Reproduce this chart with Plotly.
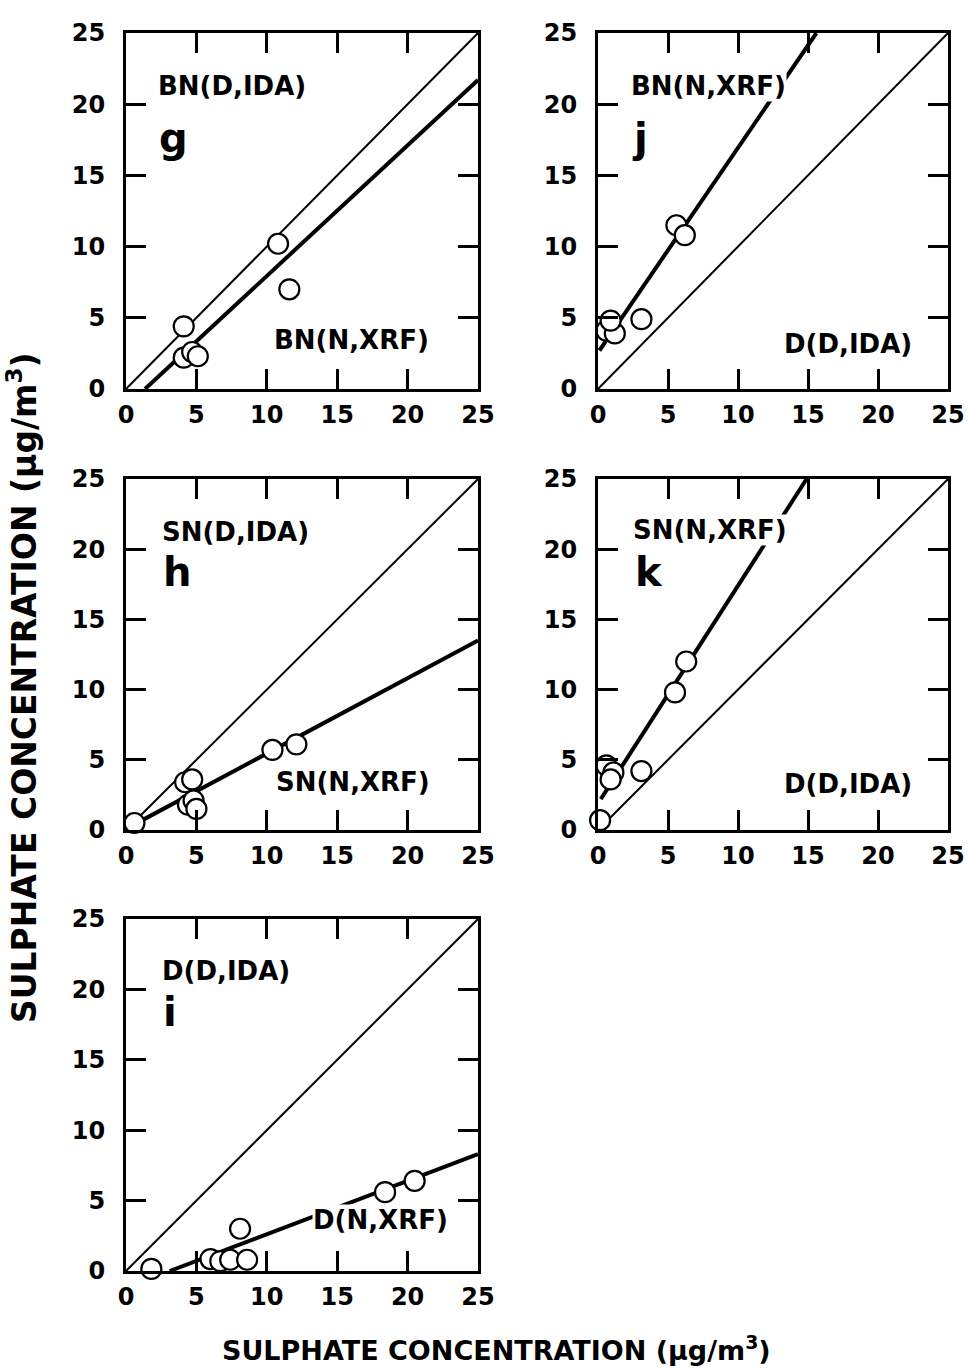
import plotly.graph_objects as go

# Panel data: measured points (x, y) and fitted-line end points for each comparison
panels = ["g", "j", "h", "k", "i"]

g_x = [10.8, 11.6, 4.1, 4.1, 4.7, 5.1]
g_y = [10.2, 7.0, 4.4, 2.2, 2.6, 2.3]
g_fit_x = [1.35, 25.0]
g_fit_y = [0.0, 21.7]

j_x = [5.6, 6.2, 3.1, 0.6, 1.2, 0.9]
j_y = [11.5, 10.8, 4.9, 4.1, 3.9, 4.8]
j_fit_x = [0.1, 15.6]
j_fit_y = [2.7, 25.0]

h_x = [0.6, 4.2, 4.7, 4.4, 4.8, 5.0, 10.4, 12.1]
h_y = [0.5, 3.4, 3.6, 1.8, 2.1, 1.5, 5.7, 6.1]
h_fit_x = [0.6, 25.0]
h_fit_y = [0.4, 13.5]

k_x = [6.3, 5.5, 3.1, 0.6, 1.1, 0.9, 0.15]
k_y = [12.0, 9.8, 4.2, 4.6, 4.1, 3.6, 0.7]
k_fit_x = [0.2, 14.9]
k_fit_y = [2.2, 25.0]

i_x = [1.8, 6.0, 6.7, 7.4, 8.6, 8.1, 18.4, 20.5]
i_y = [0.15, 0.85, 0.7, 0.8, 0.8, 3.0, 5.6, 6.4]
i_fit_x = [3.1, 25.0]
i_fit_y = [0.0, 8.3]

one_to_one = [0, 25]
tick_vals = [0, 5, 10, 15, 20, 25]

top_labels = {"g": "BN(D,IDA)", "j": "BN(N,XRF)", "h": "SN(D,IDA)",
              "k": "SN(N,XRF)", "i": "D(D,IDA)"}
bottom_labels = {"g": "BN(N,XRF)", "j": "D(D,IDA)", "h": "SN(N,XRF)",
                 "k": "D(D,IDA)", "i": "D(N,XRF)"}
axis_title = "SULPHATE CONCENTRATION (μg/m<sup>3</sup>)"

data = {
    "g": (g_x, g_y, g_fit_x, g_fit_y),
    "j": (j_x, j_y, j_fit_x, j_fit_y),
    "h": (h_x, h_y, h_fit_x, h_fit_y),
    "k": (k_x, k_y, k_fit_x, k_fit_y),
    "i": (i_x, i_y, i_fit_x, i_fit_y),
}

W, H = 971, 1371
col_px = {0: (126, 478), 1: (598, 948)}
row_px = {0: (33, 389), 1: (479, 830), 2: (919, 1271)}
layout_pos = {"g": (0, 0), "j": (0, 1), "h": (1, 0), "k": (1, 1), "i": (2, 0)}

FONT = "DejaVu Sans"
fig = go.Figure()
annotations = []
layout = dict(
    width=W, height=H, margin=dict(l=0, r=0, t=0, b=0, autoexpand=False),
    paper_bgcolor="white", plot_bgcolor="white", showlegend=False,
    font=dict(family=FONT, color="black"),
)

top_pos = {"g": (2.2, 21.3), "j": (2.3, 21.3), "h": (2.5, 21.25),
           "k": (2.4, 21.4), "i": (2.5, 21.3)}
letter_pos = {"g": (2.2, 17.6), "j": (2.3, 17.6), "h": (2.5, 18.4),
              "k": (2.5, 18.4), "i": (2.5, 18.4)}
bottom_pos = {"g": (10.45, 3.44), "j": (13.2, 3.15), "h": (10.6, 3.44),
              "k": (13.2, 3.3), "i": (13.2, 3.6)}

for n, p in enumerate(panels, start=1):
    r, c = layout_pos[p]
    x0, x1 = col_px[c]
    y0, y1 = row_px[r]
    xa = "xaxis" if n == 1 else f"xaxis{n}"
    ya = "yaxis" if n == 1 else f"yaxis{n}"
    xr = "x" if n == 1 else f"x{n}"
    yr = "y" if n == 1 else f"y{n}"
    common = dict(
        range=[0, 25], tickvals=tick_vals, ticks="inside", ticklen=20,
        tickwidth=2.5, tickcolor="black", showline=True, linewidth=3,
        linecolor="black", mirror="ticks", showgrid=False, zeroline=False,
        automargin=False,
        tickfont=dict(family=FONT, size=24, color="black", weight="bold"),
        fixedrange=True,
    )
    layout[xa] = dict(common, domain=[x0 / W, x1 / W], anchor=yr,
                      ticklabelstandoff=2)
    layout[ya] = dict(common, domain=[1 - y1 / H, 1 - y0 / H], anchor=xr,
                      ticklabelstandoff=13)

    px, py, fx, fy = data[p]
    fig.add_trace(go.Scatter(x=one_to_one, y=one_to_one, mode="lines",
                             line=dict(color="black", width=2),
                             xaxis=xr, yaxis=yr, hoverinfo="skip"))
    fig.add_trace(go.Scatter(x=fx, y=fy, mode="lines",
                             line=dict(color="black", width=4),
                             xaxis=xr, yaxis=yr, hoverinfo="skip"))
    fig.add_trace(go.Scatter(x=px, y=py, mode="markers", cliponaxis=False,
                             marker=dict(size=20, color="white",
                                         line=dict(color="black", width=2.2)),
                             xaxis=xr, yaxis=yr))

    tx, ty = top_pos[p]
    annotations.append(dict(text=top_labels[p], x=tx, y=ty, xref=xr, yref=yr,
                            xanchor="left", yanchor="middle", showarrow=False,
                            bgcolor="white", borderpad=0,
                            font=dict(family=FONT, size=26, color="black",
                                      weight="bold")))
    lx, ly = letter_pos[p]
    annotations.append(dict(text=p, x=lx, y=ly, xref=xr, yref=yr,
                            xanchor="left", yanchor="middle", showarrow=False,
                            font=dict(family=FONT, size=40, color="black",
                                      weight="bold")))
    bx, by = bottom_pos[p]
    annotations.append(dict(text=bottom_labels[p], x=bx, y=by, xref=xr, yref=yr,
                            xanchor="left", yanchor="middle", showarrow=False,
                            bgcolor="white", borderpad=0,
                            font=dict(family=FONT, size=26, color="black",
                                      weight="bold")))

# Shared axis titles
annotations.append(dict(text=axis_title, x=496 / W, y=1 - 1348 / H,
                        xref="paper", yref="paper", xanchor="center",
                        yanchor="middle", showarrow=False,
                        font=dict(family=FONT, size=27, color="black",
                                  weight="bold")))
annotations.append(dict(text=axis_title, x=22 / W, y=1 - 688 / H,
                        xref="paper", yref="paper", xanchor="center",
                        yanchor="middle", showarrow=False, textangle=-90,
                        font=dict(family=FONT, size=33, color="black",
                                  weight="bold")))

layout["annotations"] = annotations
fig.update_layout(**layout)
fig.write_html("out.html")
